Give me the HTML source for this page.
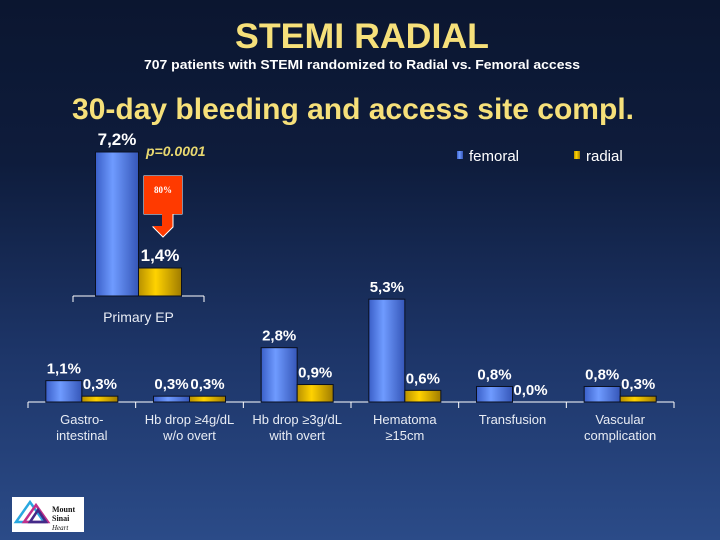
<!DOCTYPE html>
<html><head><meta charset="utf-8"><style>
html,body{margin:0;padding:0;width:720px;height:540px;overflow:hidden;}
body{background:linear-gradient(180deg,#0b1630 0%,#0e1c3c 30%,#1d3568 65%,#2b4b88 100%);font-family:"Liberation Sans",sans-serif;}
svg{display:block}
</style></head><body>
<svg width="720" height="540">
<defs>
<linearGradient id="gb" x1="0" x2="1" y1="0" y2="0"><stop offset="0" stop-color="#3a5fc8"/><stop offset="0.4" stop-color="#6f9bff"/><stop offset="1" stop-color="#3556b8"/></linearGradient>
<linearGradient id="gy" x1="0" x2="1" y1="0" y2="0"><stop offset="0" stop-color="#b89000"/><stop offset="0.4" stop-color="#ffd200"/><stop offset="1" stop-color="#a07c00"/></linearGradient>
</defs>
<text x="362" y="48" text-anchor="middle" font-size="35" font-weight="bold" fill="#f6e07a" textLength="254" lengthAdjust="spacingAndGlyphs">STEMI RADIAL</text>
<text x="362" y="69" text-anchor="middle" font-size="12.5" font-weight="bold" fill="#ffffff" textLength="436" lengthAdjust="spacingAndGlyphs">707 patients with STEMI randomized to Radial vs. Femoral access</text>
<text x="353" y="119" text-anchor="middle" font-size="30" font-weight="bold" fill="#f6e07a" textLength="562" lengthAdjust="spacingAndGlyphs">30-day bleeding and access site compl.</text>
<text x="146" y="156" font-size="14" font-style="italic" font-weight="bold" fill="#e8d870">p=0.0001</text>
<g>
<rect x="457" y="151" width="6" height="8" fill="url(#gb)"/>
<text x="469" y="161" font-size="15" fill="#fff">femoral</text>
<rect x="574" y="151" width="6" height="8" fill="url(#gy)"/>
<text x="586" y="161" font-size="15" fill="#fff">radial</text>
</g>
<g>
<polygon points="144,176 182,176 182,214 173,214 173,227 163,237 153,227 163,227 163,214 144,214" fill="#ff3a00" stroke="#fff" stroke-width="1"/>
<polygon points="144,176 182,176 182,214 172,214 172,226 163,236 153,226 162,226 162,214 144,214" fill="#ff3a00"/>
<text x="163" y="193" text-anchor="middle" font-size="9" font-weight="bold" fill="#fff" font-family="Liberation Serif,serif">80%</text>
</g>
<g id="g1"></g>
<g id="g2"></g>
<g>
<rect x="12" y="497" width="72" height="35" fill="#fff"/>
<polygon points="16,522 30,502 44,522" fill="none" stroke="#29a8e0" stroke-width="2.5"/>
<polygon points="24,522 36,505 48,522" fill="none" stroke="#c0308a" stroke-width="2.5"/>
<polygon points="30,522 38,510 46,522" fill="none" stroke="#442a88" stroke-width="2.5"/>
<text x="52" y="512" font-size="8" font-weight="bold" fill="#111" font-family="Liberation Serif,serif">Mount</text>
<text x="52" y="521" font-size="8" font-weight="bold" fill="#111" font-family="Liberation Serif,serif">Sinai</text>
<text x="52" y="530" font-size="7" font-style="italic" fill="#111" font-family="Liberation Serif,serif">Heart</text>
</g>
</svg>
<script>
const primaryCats=["Primary EP"];
const primaryFemoral=[7.2];
const primaryRadial=[1.4];
const primaryLabelsF=["7,2%"];
const primaryLabelsR=["1,4%"];
const cats=[["Gastro-","intestinal"],["Hb drop ≥4g/dL","w/o overt"],["Hb drop ≥3g/dL","with overt"],["Hematoma","≥15cm"],["Transfusion"],["Vascular","complication"]];
const femoral=[1.1,0.3,2.8,5.3,0.8,0.8];
const radial=[0.3,0.3,0.9,0.6,0.0,0.3];
const labelsF=["1,1%","0,3%","2,8%","5,3%","0,8%","0,8%"];
const labelsR=["0,3%","0,3%","0,9%","0,6%","0,0%","0,3%"];
const NS="http://www.w3.org/2000/svg";
function mk(p,t,a,txt){const e=document.createElementNS(NS,t);for(const k in a)e.setAttribute(k,a[k]);if(txt!==undefined)e.textContent=txt;p.appendChild(e);return e;}
function draw(g,cs,fv,rv,lf,lr,o){
  const x0=o.x0,x1=o.x1,base=o.base,s=o.s,bw=o.bw,n=cs.length,cw=(x1-x0)/n;
  const xs=i=>x0+cw*(i+0.5); const y=v=>base-v*s;
  const ax=mk(g,'path',{d:`M${x0},${base}H${x1}`+cs.map((c,i)=>`M${x0+cw*i},${base}v6`).join('')+`M${x1},${base}v6`,stroke:'#fff','stroke-width':1,fill:'none'});
  
  
  cs.forEach((c,i)=>{
    const cx=xs(i);
    const b=mk(g,'rect',{x:cx-bw,y:y(fv[i]),width:bw,height:fv[i]*s,fill:'url(#gb)',stroke:'#0a1020','stroke-width':1});
    
    
    const r=mk(g,'rect',{x:cx,y:y(rv[i]),width:bw,height:rv[i]*s,fill:'url(#gy)',stroke:'#0a1020','stroke-width':1});
    
    
    const t1=mk(g,'text',{x:cx-bw/2,y:y(fv[i])-7,'text-anchor':'middle','font-size':o.fs,'font-weight':'bold',fill:'#fff'},lf[i]);
    
    
    const t2=mk(g,'text',{x:cx+bw/2,y:y(rv[i])-7,'text-anchor':'middle','font-size':o.fs,'font-weight':'bold',fill:'#fff'},lr[i]);
    
    
    const lines=Array.isArray(c)?c:[c];
    lines.forEach((ln,j)=>{
      const t=mk(g,'text',{x:cx,y:base+o.ly+j*16,'text-anchor':'middle','font-size':o.lfs,fill:'#e8ecf4'},ln);
      
      
    });
  });
}
draw(document.getElementById('g1'),primaryCats,primaryFemoral,primaryRadial,primaryLabelsF,primaryLabelsR,{x0:73,x1:204,base:296,s:20,bw:43,fs:17,lfs:14,ly:26});
draw(document.getElementById('g2'),cats,femoral,radial,labelsF,labelsR,{x0:28,x1:674,base:402,s:19.4,bw:36,fs:15,lfs:13,ly:22});
</script>
</body></html>
